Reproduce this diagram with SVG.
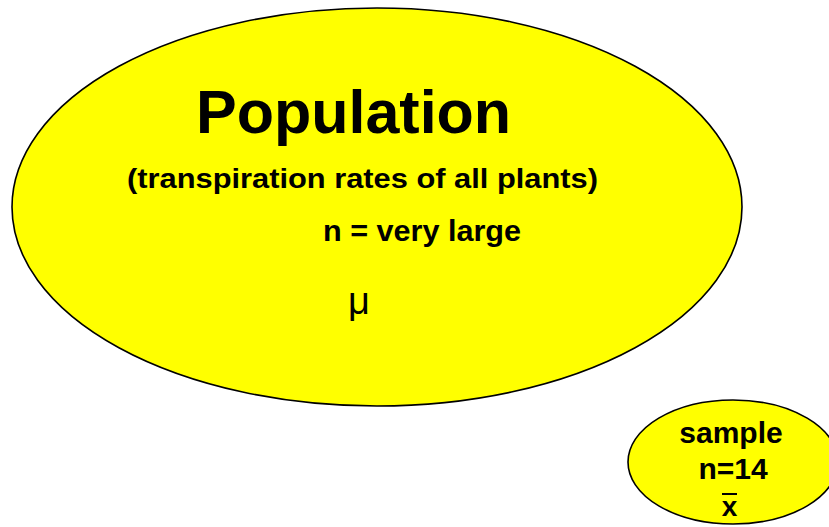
<svg xmlns="http://www.w3.org/2000/svg" width="829" height="527" viewBox="0 0 829 527">
<style>
.node{fill:#ffff00;stroke:#000;stroke-width:1.6}
.b{font-family:"Liberation Sans",Arial,sans-serif;font-weight:bold;fill:#000}
.r{font-family:"Liberation Sans",Arial,sans-serif;fill:#000}
</style>
<rect width="829" height="527" fill="#fff"/>
<g id="population">
<ellipse class="node" cx="377" cy="207" rx="365" ry="199"/>
<text class="b" x="196" y="133" font-size="61">Population</text>
<text class="b" x="127" y="188" font-size="28" textLength="471" lengthAdjust="spacingAndGlyphs">(transpiration rates of all plants)</text>
<text class="b" x="323" y="241" font-size="30" textLength="198" lengthAdjust="spacingAndGlyphs">n = very large</text>
<text class="r" x="348" y="314" font-size="38">μ</text>
</g>
<g id="sample">
<ellipse class="node" cx="733" cy="462" rx="105" ry="62"/>
<text class="b" x="731" y="443" font-size="30" text-anchor="middle">sample</text>
<text class="b" x="733" y="479" font-size="30" text-anchor="middle">n=14</text>
<text class="b" x="729.5" y="516" font-size="28" text-anchor="middle">x</text>
<line x1="722" y1="494" x2="737" y2="494" stroke="#000" stroke-width="2"/>
</g>
<g id="connectors"/>
</svg>
